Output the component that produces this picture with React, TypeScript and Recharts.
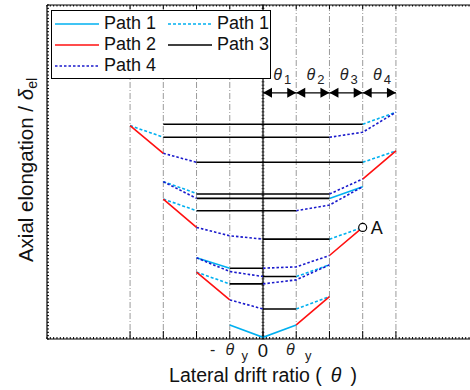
import React from "react";
import {
  CartesianGrid,
  Legend,
  Line,
  LineChart,
  ReferenceDot,
  ReferenceLine,
  XAxis,
  YAxis,
} from "recharts";

type Pt = [number, number];

// drift ratio in steps of theta, axial elongation (arbitrary units)
const path1Solid: Pt[][] = [
  [[-1, 0.42], [0, 0.05], [1, 0.42]],
  [[-2, 2.43], [-1, 2.12]],
  [[2, 4.21], [3, 4.56]],
];

const path1Dotted: Pt[][] = [
  [[-4, 6.39], [-3, 6.04]],
  [[-3, 4.71], [-2, 4.36]],
  [[-3, 4.19], [-2, 3.84]],
  [[-2, 2.0], [-1, 1.65]],
  [[3, 6.43], [4, 6.79]],
  [[3, 5.29], [4, 5.63]],
  [[2, 2.99], [3, 3.34]],
  [[1, 1.87], [2, 2.22]],
  [[1, 0.9], [2, 1.27]],
];

const path2: Pt[][] = [
  [[-4, 6.39], [-3, 5.56]],
  [[-3, 4.19], [-2, 3.34]],
  [[-2, 2.0], [-1, 1.17]],
  [[3, 4.79], [4, 5.63]],
  [[2, 2.5], [3, 3.34]],
  [[1, 0.42], [2, 1.27]],
];

const path3: Pt[][] = [
  [[-3, 6.43], [3, 6.43]],
  [[-3, 6.04], [2, 6.04]],
  [[-2, 5.29], [3, 5.29]],
  [[-2, 4.34], [2, 4.34]],
  [[-2, 4.21], [2, 4.21]],
  [[-2, 3.84], [1, 3.84]],
  [[0, 2.99], [2, 2.99]],
  [[-1, 2.12], [0, 2.12]],
  [[0, 1.87], [1, 1.87]],
  [[-1, 1.65], [0, 1.65]],
  [[0, 0.9], [1, 0.9]],
];

const path4: Pt[][] = [
  [[-3, 5.56], [-2, 5.29]],
  [[-3, 4.71], [-2, 4.21]],
  [[-2, 3.34], [-1, 3.09], [0, 2.99]],
  [[-2, 2.43], [-1, 2.02], [0, 1.87]],
  [[-1, 1.17], [0, 0.9]],
  [[2, 6.04], [3, 6.19], [4, 6.79]],
  [[2, 4.34], [3, 4.79]],
  [[1, 3.84], [2, 4.01], [3, 4.56]],
  [[0, 2.12], [1, 2.16], [2, 2.5]],
  [[0, 1.65], [1, 1.77], [2, 2.22]],
];

const pointA: Pt = [3, 3.34];

const majorTicks = [-4, -3, -2, -1, 0, 1, 2, 3, 4];
const thetaSpans = [0, 1, 2, 3];
const thetaSubs = ["1", "2", "3", "4"];
const arrowLevel = 7.37;

const minorX: number[] = [];
for (let i = -65; i <= 65; i++) minorX.push(i / 10);
const minorY: number[] = [];
for (let i = 0; i <= 100; i++) minorY.push(i / 10);

const FONT = "'Liberation Sans', Arial, sans-serif";
const CYAN = "#00B0F0";
const RED = "#FF1010";
const BLUE = "#1A1ACC";

// segments joined with a null point so the line breaks between them
function toSeries(segs: Pt[][]) {
  const out: { x: number; y: number | null }[] = [];
  segs.forEach((seg, i) => {
    if (i > 0) out.push({ x: seg[0][0], y: null });
    seg.forEach(([x, y]) => out.push({ x, y }));
  });
  return out;
}

const series = [
  { key: "p1", name: "Path 1", data: toSeries(path1Solid), color: CYAN, dash: undefined },
  { key: "p1d", name: "Path 1", data: toSeries(path1Dotted), color: CYAN, dash: "3 2" },
  { key: "p2", name: "Path 2", data: toSeries(path2), color: RED, dash: undefined },
  { key: "p3", name: "Path 3", data: toSeries(path3), color: "#000", dash: undefined },
  { key: "p4", name: "Path 4", data: toSeries(path4), color: BLUE, dash: "2.5 2" },
];

const isMajor = (v: number) => majorTicks.some((m) => Math.abs(m - v) < 1e-6);

function BottomTick({ x, y, payload }: any) {
  const v = payload.value;
  const major = isMajor(v);
  return (
    <g>
      <line x1={x} x2={x} y1={y} y2={y - (major ? 8 : 2)} stroke="#000" strokeWidth={1} />
      {Math.abs(v) < 1e-6 && (
        <text x={x} y={y + 18} textAnchor="middle" fontSize={18.5} fontFamily={FONT} fill="#111">
          0
        </text>
      )}
      {Math.abs(v + 1) < 1e-6 && (
        <g fontFamily={FONT} fill="#222">
          <text x={x - 17} y={y + 16} textAnchor="middle" fontSize={16}>-</text>
          <text x={x} y={y + 16} textAnchor="middle" fontSize={16} fontStyle="italic">θ</text>
          <text x={x + 15} y={y + 21} textAnchor="middle" fontSize={13}>y</text>
        </g>
      )}
      {Math.abs(v - 1) < 1e-6 && (
        <g fontFamily={FONT} fill="#222">
          <text x={x - 6} y={y + 16} textAnchor="middle" fontSize={16} fontStyle="italic">θ</text>
          <text x={x + 12} y={y + 21} textAnchor="middle" fontSize={13}>y</text>
        </g>
      )}
    </g>
  );
}

function TopTick({ x, y, payload }: any) {
  const major = isMajor(payload.value);
  return <line x1={x} x2={x} y1={y} y2={y + (major ? 4 : 1.5)} stroke="#000" strokeWidth={1} />;
}

function LeftTick({ x, y }: any) {
  return <line x1={x} x2={x + 2} y1={y} y2={y} stroke="#000" strokeWidth={1} />;
}

function ZeroLine({ x1, y1, y2 }: any) {
  const top = Math.min(y1, y2);
  const bottom = Math.max(y1, y2);
  const step = (bottom - top) / 100;
  const marks = [];
  for (let i = 0; i <= 100; i++) {
    const yy = top + i * step;
    marks.push(<line key={i} x1={x1 - 1.5} x2={x1 + 1.5} y1={yy} y2={yy} stroke="#000" strokeWidth={0.6} />);
  }
  return (
    <g>
      <line x1={x1} x2={x1} y1={top} y2={bottom} stroke="#000" strokeWidth={1.2} />
      {marks}
    </g>
  );
}

function ThetaArrow({ x1, y1, x2, sub }: any) {
  const mid = (x1 + x2) / 2;
  return (
    <g>
      <line x1={x1} x2={x2} y1={y1} y2={y1} stroke="#000" strokeWidth={1.2} />
      <polygon points={`${x1},${y1} ${x1 + 9},${y1 - 5} ${x1 + 9},${y1 + 5}`} fill="#000" />
      <polygon points={`${x2},${y1} ${x2 - 9},${y1 - 5} ${x2 - 9},${y1 + 5}`} fill="#000" />
      <text x={mid - 2} y={y1 - 13} textAnchor="middle" fontSize={16} fontStyle="italic" fontFamily={FONT} fill="#222">
        θ
      </text>
      <text x={mid + 8} y={y1 - 9} textAnchor="middle" fontSize={13} fontFamily={FONT} fill="#222">
        {sub}
      </text>
    </g>
  );
}

function LegendSwatch({ color, dash }: { color: string; dash?: string }) {
  return (
    <svg width={44} height={4} style={{ display: "block" }}>
      <line x1={0} x2={44} y1={2} y2={2} stroke={color} strokeWidth={1.6} strokeDasharray={dash} />
    </svg>
  );
}

function ChartLegend() {
  return (
    <div
      style={{
        width: 218,
        height: 67,
        border: "1px solid #000",
        background: "#fff",
        fontFamily: FONT,
        fontSize: 18,
        color: "#111",
        position: "relative",
      }}
    >
      {series.map((s, i) => {
        const col = i % 2;
        const row = Math.floor(i / 2);
        return (
          <div
            key={s.key}
            style={{
              position: "absolute",
              left: 3 + col * 113,
              top: 2 + row * 21,
              display: "flex",
              alignItems: "center",
              height: 21,
              lineHeight: "21px",
            }}
          >
            <LegendSwatch color={s.color} dash={s.dash} />
            <span style={{ marginLeft: 5 }}>{s.name}</span>
          </div>
        );
      })}
    </div>
  );
}

export default function App() {
  return (
    <div
      style={{
        position: "absolute",
        left: 0,
        top: 0,
        width: 470,
        height: 390,
        overflow: "hidden",
        background: "#fff",
      }}
    >
      <LineChart width={480} height={390} margin={{ top: 0, right: 1, bottom: 0, left: 0 }}>
        <XAxis
          xAxisId="top"
          orientation="top"
          type="number"
          dataKey="x"
          domain={[-6.5, 6.5]}
          allowDataOverflow
          ticks={minorX}
          interval={0}
          height={5}
          tickLine={false}
          tickSize={0}
          tickMargin={0}
          tick={<TopTick />}
          axisLine={{ stroke: "#000", strokeWidth: 1.2 }}
        />
        <CartesianGrid
          xAxisId="top"
          yAxisId="left"
          horizontal={false}
          verticalValues={[-4, -3, -2, -1, 1, 2, 3, 4]}
          stroke="#9a9a9a"
          strokeDasharray="6 2 1 2"
        />
        <XAxis
          xAxisId="bottom"
          type="number"
          dataKey="x"
          domain={[-6.5, 6.5]}
          allowDataOverflow
          ticks={minorX}
          interval={0}
          height={51}
          tickLine={false}
          tickSize={0}
          tickMargin={0}
          tick={<BottomTick />}
          axisLine={{ stroke: "#000", strokeWidth: 1.2 }}
          label={{
            content: () => (
              <text x={263} y={382} textAnchor="middle" fontSize={19.5} fontFamily={FONT} fill="#111">
                Lateral drift ratio (
                <tspan fontStyle="italic" dx={9}>θ</tspan>
                <tspan dx={9}>)</tspan>
              </text>
            ),
          }}
        />
        <YAxis
          yAxisId="left"
          type="number"
          domain={[0, 10]}
          ticks={minorY}
          interval={0}
          width={47}
          tickLine={false}
          tickSize={0}
          tickMargin={0}
          tick={<LeftTick />}
          axisLine={{ stroke: "#000", strokeWidth: 1.2 }}
          label={{
            content: () => (
              <text
                x={33}
                y={170}
                transform="rotate(-90 33 170)"
                textAnchor="middle"
                fontSize={20.5}
                fontFamily={FONT}
                fill="#111"
              >
                Axial elongation /{" "}
                <tspan fontStyle="italic">δ</tspan>
                <tspan fontSize={14} dy={4}>el</tspan>
              </text>
            ),
          }}
        />
        <ReferenceLine xAxisId="bottom" yAxisId="left" x={0} shape={<ZeroLine />} />
        {series.map((s) => (
          <Line
            key={s.key}
            xAxisId="bottom"
            yAxisId="left"
            data={s.data}
            dataKey="y"
            name={s.name}
            stroke={s.color}
            strokeWidth={1.6}
            strokeDasharray={s.dash}
            dot={false}
            activeDot={false}
            connectNulls={false}
            isAnimationActive={false}
          />
        ))}
        {thetaSpans.map((s, i) => (
          <ReferenceLine
            key={`th${i}`}
            xAxisId="bottom"
            yAxisId="left"
            segment={[
              { x: s, y: arrowLevel },
              { x: s + 1, y: arrowLevel },
            ]}
            shape={(p: any) => <ThetaArrow {...p} sub={thetaSubs[i]} />}
          />
        ))}
        <ReferenceDot
          xAxisId="bottom"
          yAxisId="left"
          x={pointA[0]}
          y={pointA[1]}
          r={4}
          fill="#fff"
          stroke="#000"
          strokeWidth={1.2}
          label={{ value: "A", position: "right", offset: 4, fontSize: 18, fontFamily: FONT, fill: "#111" }}
        />
        <Legend
          layout="horizontal"
          verticalAlign="middle"
          align="center"
          content={() => <ChartLegend />}
          wrapperStyle={{ left: 51, top: 10, width: 220, height: 69 }}
        />
      </LineChart>
    </div>
  );
}
